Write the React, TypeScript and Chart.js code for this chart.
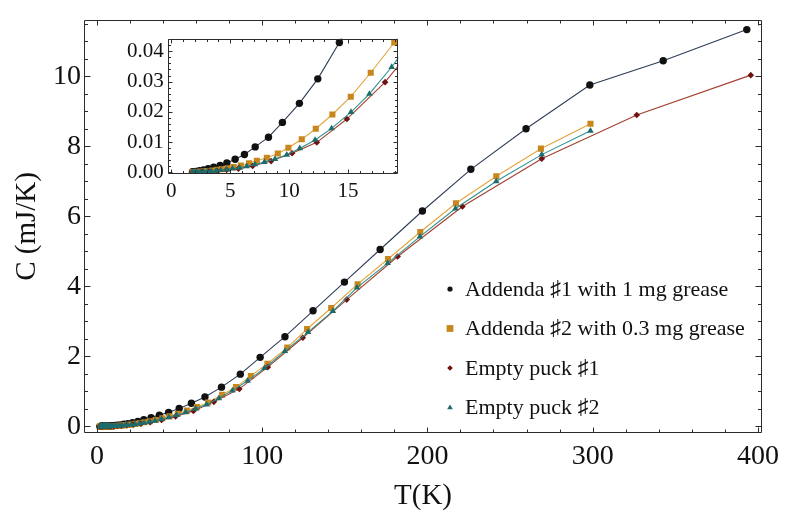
import React, { useEffect, useRef } from "react";
import { Chart, registerables } from "chart.js";

Chart.register(...registerables);

const FONT = "'Liberation Serif', 'Times New Roman', 'DejaVu Serif', serif";

const seriesLabels = [
  "Addenda \u266F1 with 1 mg grease",
  "Addenda \u266F2 with 0.3 mg grease",
  "Empty puck \u266F1",
  "Empty puck \u266F2",
];

// Addenda #1 with 1 mg grease
const tempA1 = [1.8, 2.07, 2.38, 2.73, 3.13, 3.6, 4.15, 4.72, 5.42, 6.21, 7.12, 8.25, 9.43, 10.87, 12.43, 14.26, 16.4, 18.8, 21.6, 24.8, 28.4, 32.8, 37.8, 43.4, 49.8, 57.2, 65.4, 75.4, 86.8, 98.8, 113.8, 130.8, 149.8, 171.4, 197, 226.3, 259.7, 298.3, 342.7, 393.3];
const capA1 = [0.0002, 0.0003, 0.0005, 0.0008, 0.0012, 0.0017, 0.0023, 0.0031, 0.0043, 0.0059, 0.0084, 0.0116, 0.0165, 0.0228, 0.0309, 0.0429, 0.058, 0.078, 0.105, 0.14, 0.19, 0.25, 0.32, 0.4, 0.51, 0.66, 0.84, 1.12, 1.49, 1.97, 2.56, 3.3, 4.12, 5.05, 6.15, 7.34, 8.5, 9.75, 10.44, 11.33];

// Addenda #2 with 0.3 mg grease
const tempA2 = [1.8, 2.0, 2.25, 2.5, 2.8, 3.1, 3.5, 3.9, 4.3, 4.8, 5.3, 5.9, 6.6, 7.26, 8.11, 9.04, 9.94, 11.07, 12.26, 13.67, 15.23, 16.92, 18.92, 21.0, 23.3, 25.9, 28.8, 32.0, 35.6, 39.6, 44.0, 48.9, 54.4, 60.5, 67.3, 75.8, 84.2, 93.2, 103.2, 115.2, 127.2, 141.8, 157.8, 176.2, 195.7, 217.3, 241.7, 268.7, 298.7];
const capA2 = [0.0001, 0.0001, 0.00015, 0.0002, 0.0003, 0.0004, 0.0006, 0.0008, 0.001, 0.0013, 0.0017, 0.0022, 0.003, 0.0038, 0.0048, 0.0062, 0.0081, 0.0109, 0.0144, 0.0191, 0.025, 0.0329, 0.0429, 0.055, 0.07, 0.09, 0.115, 0.145, 0.18, 0.23, 0.29, 0.36, 0.45, 0.55, 0.68, 0.9, 1.12, 1.44, 1.79, 2.25, 2.78, 3.38, 4.06, 4.78, 5.55, 6.37, 7.14, 7.93, 8.64];

// Empty puck #1
const tempP1 = [1.79, 2.17, 2.63, 3.19, 3.87, 4.7, 5.7, 6.9, 8.47, 10.25, 12.35, 14.9, 18.14, 21.9, 26.6, 32.2, 39.1, 47.6, 58.4, 70.8, 86.2, 103.4, 124.6, 151.2, 182, 221.2, 269.2, 326.7, 395.7];
const capP1 = [0.0001, 0.0001, 0.0002, 0.0003, 0.0005, 0.0008, 0.0012, 0.0021, 0.0037, 0.0063, 0.0099, 0.0176, 0.0298, 0.048, 0.075, 0.115, 0.18, 0.28, 0.44, 0.7, 1.07, 1.69, 2.53, 3.62, 4.85, 6.28, 7.64, 8.89, 10.03];

// Empty puck #2
const tempP2 = [1.8, 2.0, 2.2, 2.45, 2.75, 3.05, 3.4, 3.8, 4.2, 4.7, 5.2, 5.8, 6.4, 7.1, 7.9, 8.8, 9.8, 10.9, 12.2, 13.6, 15.25, 16.81, 18.7, 20.8, 23.1, 25.7, 28.5, 31.7, 35.2, 39.1, 43.5, 48.3, 53.7, 59.7, 66.4, 73.8, 82.0, 91.2, 101.4, 113.8, 127.8, 142.8, 157.4, 176, 195.5, 217, 241.7, 269.2, 298.7];
const capP2 = [0.0001, 0.0001, 0.0001, 0.00015, 0.0002, 0.0003, 0.0004, 0.0005, 0.0007, 0.0009, 0.0012, 0.0015, 0.002, 0.0026, 0.0034, 0.0044, 0.0058, 0.0079, 0.0107, 0.0145, 0.0199, 0.0259, 0.0348, 0.046, 0.06, 0.078, 0.1, 0.128, 0.16, 0.205, 0.26, 0.32, 0.4, 0.5, 0.62, 0.8, 1.02, 1.3, 1.66, 2.15, 2.69, 3.29, 3.96, 4.66, 5.42, 6.22, 7.0, 7.76, 8.44];

const xTicksMain = [0, 100, 200, 300, 400];
const yTicksMain = [0, 2, 4, 6, 8, 10];
const xTicksInset = [0, 5, 10, 15];
const yTicksInset = [0, 0.01, 0.02, 0.03, 0.04];

const styles = [
  { point: "circle", marker: "#111111", line: "#2f3d58", radius: 3.7, legendR: 2.6 },
  { point: "rect", marker: "#c8861c", line: "#e3a53a", radius: 4.3, legendR: 3.4 },
  { point: "rectRot", marker: "#6e1212", line: "#a3402e", radius: 3.3, legendR: 2.8 },
  { point: "triangle", marker: "#1d6c6c", line: "#2e9090", radius: 3.8, legendR: 3.0 },
];

function makeDatasets(scale: number) {
  const sets: [number[], number[]][] = [
    [tempA1, capA1],
    [tempA2, capA2],
    [tempP1, capP1],
    [tempP2, capP2],
  ];
  return sets.map(([t, c], i) => ({
    label: seriesLabels[i],
    data: t.map((v, j) => ({ x: v, y: c[j] })),
    borderColor: styles[i].line,
    borderWidth: 1.1,
    pointStyle: styles[i].point,
    pointRadius: styles[i].radius * scale,
    pointBackgroundColor: styles[i].marker,
    pointBorderColor: styles[i].marker,
    pointBorderWidth: 0,
    order: 3 - i,
    tension: 0,
    fill: false,
  }));
}

const frameTicks = {
  id: "frameTicks",
  beforeDraw(chart: any, _a: any, o: any) {
    if (!o || !o.fill) return;
    const { ctx, chartArea: a } = chart;
    ctx.save();
    ctx.fillStyle = "#ffffff";
    ctx.fillRect(a.left, a.top, a.right - a.left, a.bottom - a.top);
    ctx.restore();
  },
  afterDraw(chart: any, _a: any, o: any) {
    if (!o) return;
    const { ctx, chartArea: a } = chart;
    const xs = chart.scales.x;
    const ys = chart.scales.y;
    const L = Math.round(a.left) + 0.5;
    const R = Math.round(a.right) - 0.5;
    const T = Math.round(a.top) + 0.5;
    const B = Math.round(a.bottom) - 0.5;
    ctx.save();
    ctx.strokeStyle = "#2b2b2b";
    ctx.lineWidth = 1;
    ctx.beginPath();
    ctx.moveTo(L, T);
    ctx.lineTo(R, T);
    ctx.lineTo(R, B);
    ctx.lineTo(L, B);
    ctx.closePath();
    const nx = Math.round((o.xTo - o.xFrom) / o.xMinor);
    for (let i = 0; i <= nx; i++) {
      const v = o.xFrom + i * o.xMinor;
      const r = v / o.xMajor;
      const major = Math.abs(r - Math.round(r)) < 1e-6;
      const len = major ? o.xMajorLen : o.xMinorLen;
      const px = Math.round(xs.getPixelForValue(v)) + 0.5;
      if (px < L || px > R) continue;
      ctx.moveTo(px, B);
      ctx.lineTo(px, B - len);
      ctx.moveTo(px, T);
      ctx.lineTo(px, T + len);
    }
    const ny = Math.round((o.yTo - o.yFrom) / o.yMinor);
    for (let i = 0; i <= ny; i++) {
      const v = o.yFrom + i * o.yMinor;
      const r = v / o.yMajor;
      const major = Math.abs(r - Math.round(r)) < 1e-6;
      const len = major ? o.yMajorLen : o.yMinorLen;
      const py = Math.round(ys.getPixelForValue(v)) + 0.5;
      if (py < T || py > B) continue;
      ctx.moveTo(L, py);
      ctx.lineTo(L + len, py);
      ctx.moveTo(R, py);
      ctx.lineTo(R - len, py);
    }
    ctx.stroke();
    ctx.restore();
  },
};

function drawMarker(ctx: CanvasRenderingContext2D, style: string, x: number, y: number, r: number) {
  ctx.beginPath();
  if (style === "circle") {
    ctx.arc(x, y, r, 0, Math.PI * 2);
  } else if (style === "rect") {
    ctx.rect(x - r, y - r, 2 * r, 2 * r);
  } else if (style === "rectRot") {
    ctx.moveTo(x, y - r);
    ctx.lineTo(x + r, y);
    ctx.lineTo(x, y + r);
    ctx.lineTo(x - r, y);
    ctx.closePath();
  } else {
    ctx.moveTo(x, y - r);
    ctx.lineTo(x + r * 0.95, y + r * 0.6);
    ctx.lineTo(x - r * 0.95, y + r * 0.6);
    ctx.closePath();
  }
  ctx.fill();
}

const legendPlugin = {
  id: "insideLegend",
  afterDraw(chart: any, _a: any, o: any) {
    if (!o) return;
    const { ctx } = chart;
    ctx.save();
    ctx.font = `${o.size}px ${FONT}`;
    ctx.textBaseline = "middle";
    ctx.textAlign = "left";
    seriesLabels.forEach((lab, i) => {
      const y = o.y + i * o.gap;
      ctx.fillStyle = styles[i].marker;
      drawMarker(ctx, styles[i].point, o.markerX, y, styles[i].legendR);
      ctx.fillStyle = "#111111";
      ctx.fillText(lab, o.textX, y + 1);
    });
    ctx.restore();
  },
};

export default function App() {
  const mainRef = useRef<HTMLCanvasElement>(null);
  const insetRef = useRef<HTMLCanvasElement>(null);

  useEffect(() => {
    document.body.style.margin = "0";
    const main = new Chart(mainRef.current as HTMLCanvasElement, {
      type: "line",
      data: { datasets: makeDatasets(1) as any },
      plugins: [frameTicks as any, legendPlugin as any],
      options: {
        responsive: false,
        animation: false,
        devicePixelRatio: 1,
        layout: { padding: { top: 9, right: 18, left: 0, bottom: 0 } },
        plugins: {
          legend: { display: false },
          tooltip: { enabled: false },
          frameTicks: {
            xFrom: 0, xTo: 400, xMinor: 20, xMajor: 100, xMajorLen: 5, xMinorLen: 3,
            yFrom: 0, yTo: 11.5, yMinor: 0.5, yMajor: 2, yMajorLen: 6, yMinorLen: 3.5,
          },
          insideLegend: { markerX: 450, textX: 465, y: 289, gap: 39.5, size: 22 },
        } as any,
        scales: {
          x: {
            type: "linear",
            min: -7.8,
            max: 402.5,
            grid: { display: false, drawTicks: false },
            border: { display: false },
            afterBuildTicks: (s: any) => {
              s.ticks = xTicksMain.map((v) => ({ value: v }));
            },
            afterFit: (s: any) => {
              s.height = 83;
            },
            ticks: {
              font: { family: FONT, size: 28 },
              color: "#111111",
              padding: 7,
              maxRotation: 0,
              autoSkip: false,
              callback: (v: any) => String(v),
            },
            title: {
              display: true,
              text: "T(K)",
              font: { family: FONT, size: 29 },
              color: "#111111",
              padding: { top: 0, bottom: 2 },
            },
          },
          y: {
            type: "linear",
            min: -0.19,
            max: 11.61,
            grid: { display: false, drawTicks: false },
            border: { display: false },
            afterBuildTicks: (s: any) => {
              s.ticks = yTicksMain.map((v) => ({ value: v }));
            },
            afterFit: (s: any) => {
              s.width = 84;
            },
            ticks: {
              font: { family: FONT, size: 28 },
              color: "#111111",
              padding: 3,
              autoSkip: false,
              callback: (v: any) => String(v),
            },
            title: {
              display: true,
              text: "C (mJ/K)",
              font: { family: FONT, size: 29 },
              color: "#111111",
              padding: { top: 10, bottom: 0 },
            },
          },
        },
      },
    });

    const inset = new Chart(insetRef.current as HTMLCanvasElement, {
      type: "line",
      data: { datasets: makeDatasets(1) as any },
      plugins: [frameTicks as any],
      options: {
        responsive: false,
        animation: false,
        devicePixelRatio: 1,
        layout: { padding: { top: 10, right: 6.7, left: 0, bottom: 0 } },
        plugins: {
          legend: { display: false },
          tooltip: { enabled: false },
          frameTicks: {
            fill: true,
            xFrom: 0, xTo: 19, xMinor: 1, xMajor: 5, xMajorLen: 4, xMinorLen: 2.5,
            yFrom: 0, yTo: 0.044, yMinor: 0.002, yMajor: 0.01, yMajorLen: 4, yMinorLen: 2.5,
          },
        } as any,
        scales: {
          x: {
            type: "linear",
            min: -0.3,
            max: 19.26,
            grid: { display: false, drawTicks: false },
            border: { display: false },
            afterBuildTicks: (s: any) => {
              s.ticks = xTicksInset.map((v) => ({ value: v }));
            },
            afterFit: (s: any) => {
              s.height = 36.5;
            },
            ticks: {
              font: { family: FONT, size: 21 },
              color: "#111111",
              padding: 5,
              maxRotation: 0,
              autoSkip: false,
              callback: (v: any) => String(v),
            },
          },
          y: {
            type: "linear",
            min: -0.0004,
            max: 0.0442,
            grid: { display: false, drawTicks: false },
            border: { display: false },
            afterBuildTicks: (s: any) => {
              s.ticks = yTicksInset.map((v) => ({ value: v }));
            },
            afterFit: (s: any) => {
              s.width = 57.7;
            },
            ticks: {
              font: { family: FONT, size: 21 },
              color: "#111111",
              padding: 4,
              autoSkip: false,
              callback: (v: any) => Number(v).toFixed(2),
            },
          },
        },
      },
    });

    return () => {
      main.destroy();
      inset.destroy();
    };
  }, []);

  return (
    <div style={{ position: "relative", width: 786, height: 516, background: "#ffffff" }}>
      <canvas ref={mainRef} width={786} height={516} style={{ position: "absolute", left: 0, top: 0 }} />
      <canvas ref={insetRef} width={295} height={188} style={{ position: "absolute", left: 110, top: 22 }} />
    </div>
  );
}
